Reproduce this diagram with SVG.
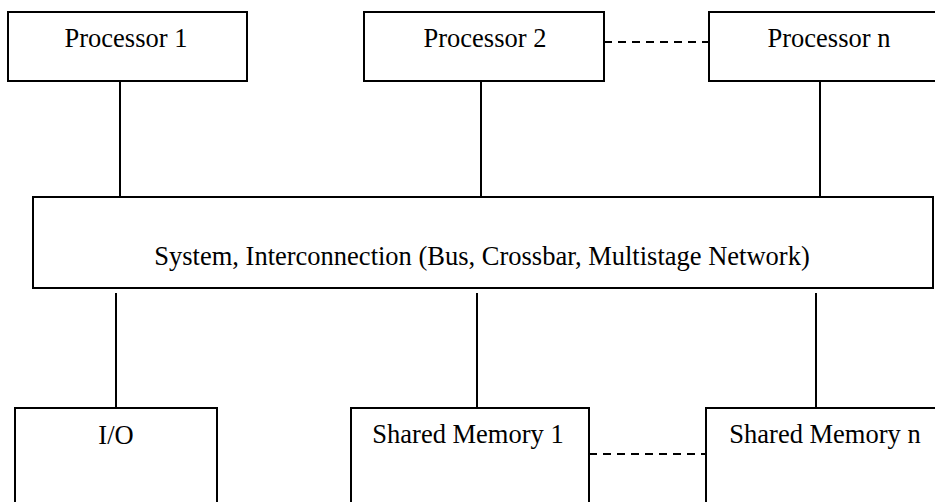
<svg xmlns="http://www.w3.org/2000/svg" width="935" height="502" viewBox="0 0 935 502">
  <style>
    .box { fill: #fff; stroke: #000; stroke-width: 2; }
    .wire { stroke: #000; stroke-width: 2; fill: none; }
    .dash { stroke: #000; stroke-width: 2; fill: none; stroke-dasharray: 8 6; }
    .lbl { font-family: 'Liberation Serif', serif; font-size: 26.5px; fill: #000; text-anchor: middle; }
  </style>
  <rect width="935" height="502" fill="#fff"/>

  <!-- links between processors, interconnect and memories -->
  <g id="connectors">
    <line class="wire" x1="120" y1="81" x2="120" y2="197"/>
    <line class="wire" x1="481" y1="81" x2="481" y2="197"/>
    <line class="wire" x1="820" y1="81" x2="820" y2="197"/>
    <line class="wire" x1="116" y1="293" x2="116" y2="408"/>
    <line class="wire" x1="477" y1="293" x2="477" y2="408"/>
    <line class="wire" x1="816" y1="293" x2="816" y2="408"/>
    <line class="dash" x1="604" y1="42" x2="709" y2="42"/>
    <line class="dash" x1="589" y1="454" x2="706" y2="454"/>
  </g>

  <g id="processor-1">
    <rect class="box" x="8" y="12" width="239" height="69"/>
    <text class="lbl" x="126" y="47">Processor 1</text>
  </g>
  <g id="processor-2">
    <rect class="box" x="364" y="12" width="240" height="69"/>
    <text class="lbl" x="485" y="47">Processor 2</text>
  </g>
  <g id="processor-n">
    <rect class="box" x="709" y="12" width="240" height="69"/>
    <text class="lbl" x="829" y="47">Processor n</text>
  </g>

  <g id="interconnect">
    <rect class="box" x="33" y="197" width="900" height="91"/>
    <text class="lbl" x="482" y="265">System, Interconnection (Bus, Crossbar, Multistage Network)</text>
  </g>

  <g id="io">
    <rect class="box" x="15" y="408" width="202" height="110"/>
    <text class="lbl" x="116" y="444">I/O</text>
  </g>
  <g id="shared-memory-1">
    <rect class="box" x="351" y="408" width="238" height="110"/>
    <text class="lbl" x="468" y="443">Shared Memory 1</text>
  </g>
  <g id="shared-memory-n">
    <rect class="box" x="706" y="408" width="240" height="110"/>
    <text class="lbl" x="825" y="443">Shared Memory n</text>
  </g>
</svg>
